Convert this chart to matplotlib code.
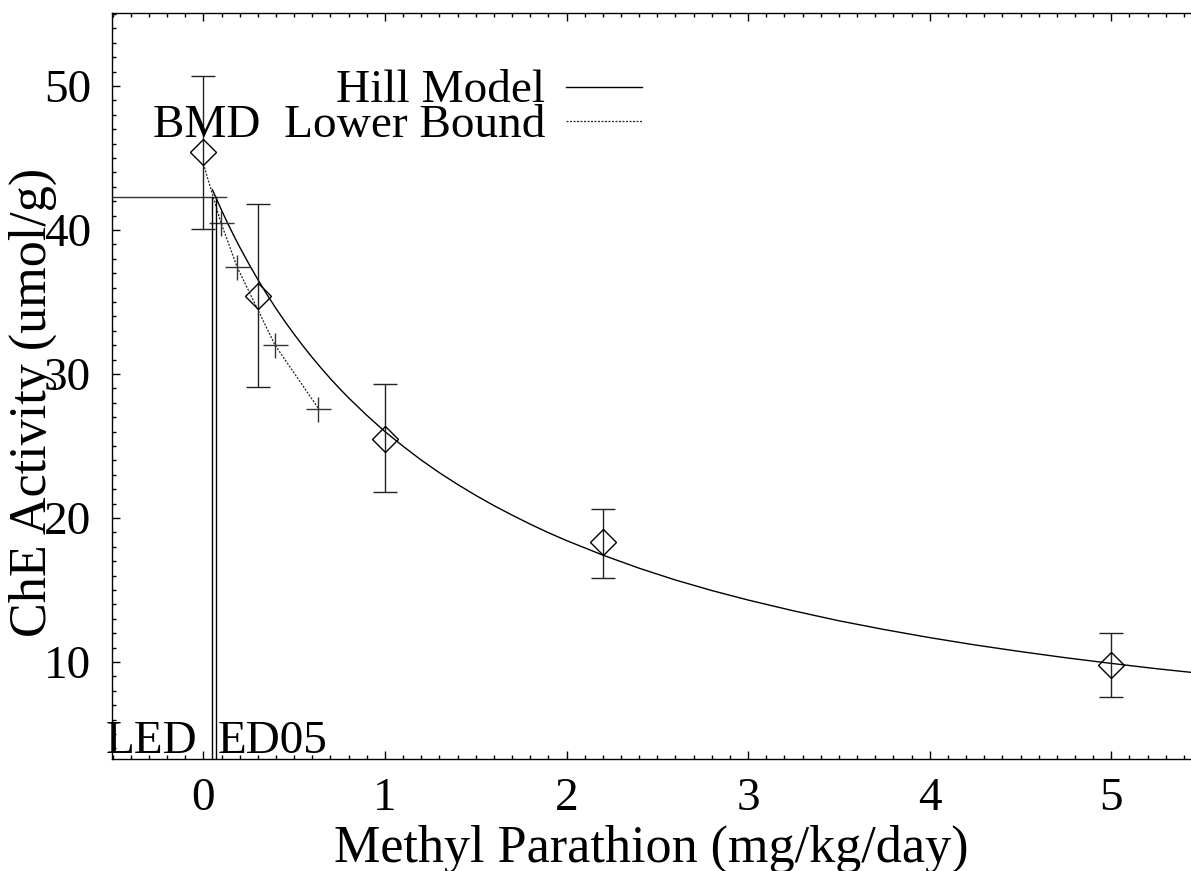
import matplotlib
matplotlib.use("Agg")
import matplotlib.pyplot as plt
from matplotlib.ticker import MultipleLocator, FixedLocator
import matplotlib.transforms as mtransforms

plt.rcParams['font.family'] = ['Liberation Serif', 'DejaVu Serif']

# ---- data ----
doses = [0, 0.3, 1.0, 2.2, 5.0]
means = [45.4, 35.4, 25.5, 18.3, 9.8]
ci_low = [40.1, 29.1, 21.8, 15.85, 7.6]
ci_high = [50.7, 41.8, 29.3, 20.6, 12.0]

curve_x = [0.05, 0.075, 0.1, 0.125, 0.15, 0.175, 0.2, 0.25, 0.3, 0.35, 0.4,
           0.45, 0.5, 0.55, 0.6, 0.65, 0.7, 0.75, 0.8, 0.9, 1.0, 1.1, 1.2,
           1.3, 1.4, 1.5, 1.6, 1.7, 1.8, 1.9, 2.0, 2.2, 2.4, 2.6, 2.8, 3.0,
           3.25, 3.5, 3.75, 4.0, 4.25, 4.5, 4.75, 5.0, 5.25, 5.55]
curve_y = [42.79, 42.09, 41.38, 40.71, 40.06, 39.43, 38.82, 37.66, 36.56,
           35.53, 34.55, 33.63, 32.76, 31.93, 31.14, 30.39, 29.67, 28.99,
           28.34, 27.13, 26.00, 24.98, 24.02, 23.14, 22.33, 21.57, 20.86,
           20.20, 19.57, 18.98, 18.43, 17.42, 16.51, 15.69, 14.96, 14.30,
           13.55, 12.86, 12.25, 11.69, 11.18, 10.72, 10.29, 9.90, 9.53, 9.13]

lb_x = [0.0, 0.097, 0.187, 0.395, 0.634]
lb_y = [44.6, 40.5, 37.4, 32.0, 27.6]

bmdl = 0.049
bmd = 0.068
bmr_level = 42.3
bmr_line_end = 0.123

x_ticks = [0, 1, 2, 3, 4, 5]
y_ticks = [10, 20, 30, 40, 50]
xlim = (-0.503, 5.549)
ylim = (3.26, 55.07)

FS = 34
FS_LABEL = 37.5

fig = plt.figure(figsize=(11.91, 8.71), dpi=100)
W, H = 1191, 871
ax = fig.add_axes([112 / W, (H - 759) / H, (1211 - 112) / W, (759 - 13) / H])
ax.set_xlim(*xlim)
ax.set_ylim(*ylim)

# model curve
ax.plot(curve_x, curve_y, color='black', lw=1.0)

# lower bound dotted line with + markers
ax.plot(lb_x, lb_y, color='#222222', lw=0.9, ls=(0, (1.6, 1.2)))
ax.plot(lb_x[1:], lb_y[1:], ls='none', marker='+', ms=18, mew=1.0, color='#333333')

# BMD / BMDL lines
ax.plot([xlim[0], bmr_line_end], [bmr_level, bmr_level], color='#333333', lw=1.0)
ax.plot([bmdl, bmdl], [ylim[0], bmr_level], color='black', lw=1.0)
ax.plot([bmd, bmd], [ylim[0], bmr_level], color='black', lw=1.0)

# data with error bars
yerr = [[m - lo for m, lo in zip(means, ci_low)], [hi - m for m, hi in zip(means, ci_high)]]
ax.errorbar(doses, means, yerr=yerr, fmt='none', ecolor='#222222', elinewidth=1.0,
            capsize=8.5, capthick=1.0)
ax.plot(doses, means, ls='none', marker='D', ms=13, mfc='none', mec='black', mew=1.0)

# ticks
ax.xaxis.set_major_locator(FixedLocator(x_ticks))
ax.xaxis.set_minor_locator(MultipleLocator(0.1))
ax.yaxis.set_major_locator(FixedLocator(y_ticks))
ax.yaxis.set_minor_locator(MultipleLocator(1))
ax.tick_params(which='both', direction='in', top=True, right=False, width=1.0)
ax.tick_params(which='major', length=6)
ax.tick_params(which='minor', length=3)
ax.tick_params(axis='x', which='major', pad=13, labelsize=FS)
ax.tick_params(axis='y', which='major', pad=15, labelsize=FS)
for s in ['left', 'bottom', 'top']:
    ax.spines[s].set_linewidth(1.0)
ax.spines['right'].set_visible(False)

# legend (gnuplot style)
ax.text((545 - 112) / 1099, (759 - 101.7) / 746, 'Hill Model', transform=ax.transAxes,
        ha='right', va='baseline', fontsize=FS)
ax.plot([(566 - 112) / 1099, (642 - 112) / 1099], [(759 - 87) / 746] * 2,
        transform=ax.transAxes, color='black', lw=1.0)
ax.text((545 - 112) / 1099, (759 - 137.3) / 746, 'BMD  Lower Bound', transform=ax.transAxes,
        ha='right', va='baseline', fontsize=FS)
ax.plot([(566 - 112) / 1099, (642 - 112) / 1099], [(759 - 121) / 746] * 2,
        transform=ax.transAxes, color='#222222', lw=0.9, ls=(0, (1.6, 1.2)))

# LED / ED05 labels
trans = mtransforms.blended_transform_factory(ax.transData, ax.transAxes)
ax.annotate('LED', xy=(bmdl, (759 - 753) / 746), xycoords=trans,
            xytext=(-11, 0), textcoords='offset points', ha='right', va='baseline',
            fontsize=FS)
ax.annotate('ED05', xy=(bmd, (759 - 753) / 746), xycoords=trans,
            xytext=(1.5, 0), textcoords='offset points', ha='left', va='baseline',
            fontsize=FS)

# axis labels
fig.text(651 / W, (H - 862) / H, 'Methyl Parathion (mg/kg/day)', ha='center',
         va='baseline', fontsize=FS_LABEL)
fig.text(9 / W, (H - 402) / H, 'ChE Activity (umol/g)', rotation=90, ha='left',
         va='center', fontsize=FS_LABEL)

fig.savefig('out.png', dpi=100)
